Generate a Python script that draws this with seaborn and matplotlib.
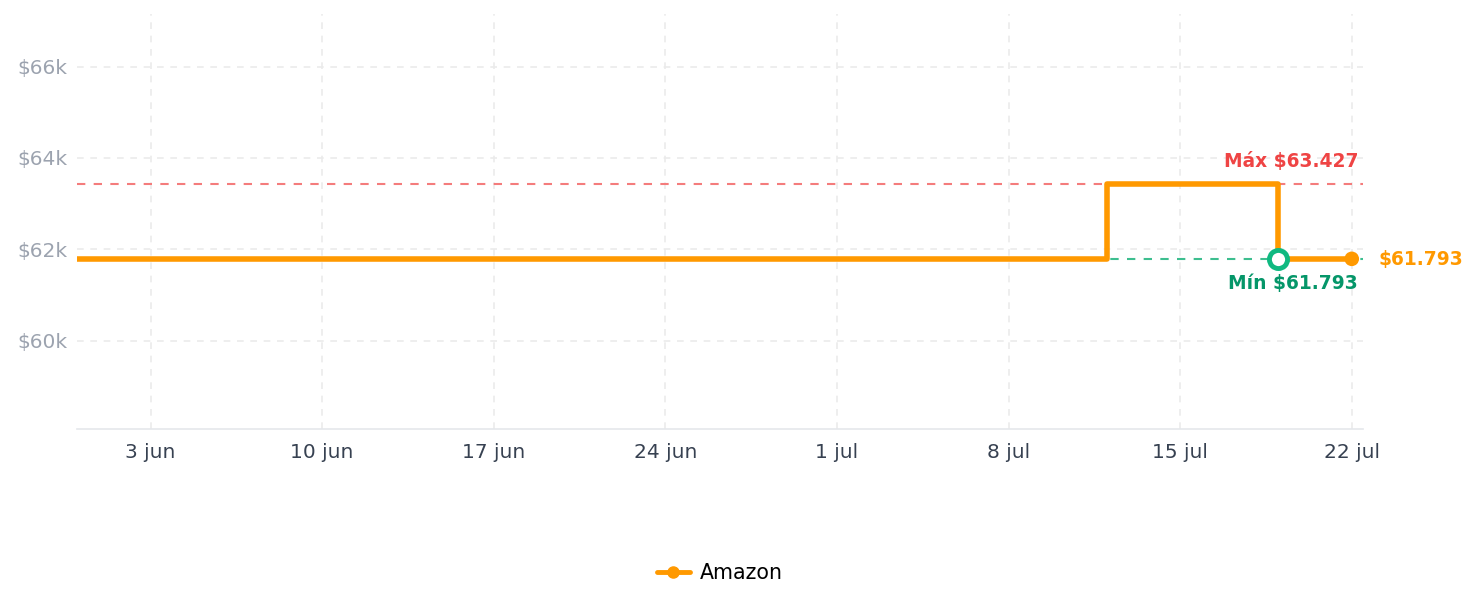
import matplotlib
matplotlib.use("Agg")
import matplotlib.pyplot as plt
from matplotlib.lines import Line2D
import seaborn as sns
import pandas as pd

dates = ["2024-05-31", "2024-07-12", "2024-07-19", "2024-07-22"]
prices = [61793, 63427, 61793, 61793]
store = "Amazon"
max_price = 63427
min_price = 61793
min_date = "2024-07-19"
last_date = "2024-07-22"
xtick_dates = ["2024-06-03", "2024-06-10", "2024-06-17", "2024-06-24",
               "2024-07-01", "2024-07-08", "2024-07-15", "2024-07-22"]
xtick_labels = ["3 jun", "10 jun", "17 jun", "24 jun", "1 jul", "8 jul", "15 jul", "22 jul"]
ytick_values = [60000, 62000, 64000, 66000]
ytick_labels = ["$60k", "$62k", "$64k", "$66k"]
max_label = "Máx $63.427"
min_label = "Mín $61.793"
last_label = "$61.793"

df = pd.DataFrame({"date": pd.to_datetime(dates), "price": prices, "store": store})

sns.set_theme(style="white")
plt.rcParams['font.family'] = ['DejaVu Sans']

ORANGE = "#FF9900"
RED_T = "#EF4444"
RED_L = "#F47C7C"
GREEN_T = "#059669"
GREEN_L = "#3DBE8F"

fig = plt.figure(figsize=(14.79, 6.07), dpi=100)
ax = fig.add_axes([77/1479, 1 - 429/607, (1363-77)/1479, (429-14)/607])

ax.axhline(max_price, color=RED_L, lw=1.5, ls=(0, (4, 4)), zorder=2)
ax.axhline(min_price, color=GREEN_L, lw=1.5, ls=(0, (4, 4)), zorder=2)

sns.lineplot(data=df, x="date", y="price", drawstyle="steps-post", color=ORANGE,
             lw=4, ax=ax, legend=False, zorder=3)

ax.scatter([pd.to_datetime(last_date)], [prices[-1]], s=110, color=ORANGE, zorder=5, edgecolors="none")
ax.scatter([pd.to_datetime(min_date)], [min_price], s=170, facecolor="white",
           edgecolors="#10B981", linewidths=3.5, zorder=6)

ax.set_xlim(pd.to_datetime("2024-05-31"), pd.to_datetime("2024-07-22 11:00"))
ax.set_ylim(58070, 67150)

ax.set_xticks(pd.to_datetime(xtick_dates))
ax.set_xticklabels(xtick_labels)
ax.set_yticks(ytick_values)
ax.set_yticklabels(ytick_labels)
ax.tick_params(axis="x", colors="#374151", labelsize=14.5, length=0, pad=10)
ax.tick_params(axis="y", colors="#9CA3AF", labelsize=14.5, length=0, pad=7)
for lab in ax.get_xticklabels():
    lab.set_color("#374151")
for lab in ax.get_yticklabels():
    lab.set_color("#9CA3AF")

ax.grid(True, color="#EBEBEB", ls=(0, (4, 4)), lw=1.2)
ax.set_axisbelow(True)
for s in ["top", "right", "left"]:
    ax.spines[s].set_visible(False)
ax.spines["bottom"].set_color("#E5E7EB")
ax.spines["bottom"].set_linewidth(1.2)
ax.set_xlabel("")
ax.set_ylabel("")

fig.text(1358/1479, 1 - 161/607, max_label, color=RED_T, fontsize=13.4, fontweight="bold",
         ha="right", va="center")
fig.text(1358/1479, 1 - 283/607, min_label, color=GREEN_T, fontsize=13.4, fontweight="bold",
         ha="right", va="center")
fig.text(1379/1479, 1 - 259/607, last_label, color=ORANGE, fontsize=13.4, fontweight="bold",
         ha="left", va="center")

handle = Line2D([], [], color=ORANGE, lw=3.5, marker="o", markersize=8)
leg = fig.legend([handle], [store], loc="center", bbox_to_anchor=(720/1479, 1 - 573/607),
                 frameon=False, fontsize=14.8, handlelength=1.6, handletextpad=0.5)
for t in leg.get_texts():
    t.set_color("black")

fig.savefig("out.png", dpi=100)
